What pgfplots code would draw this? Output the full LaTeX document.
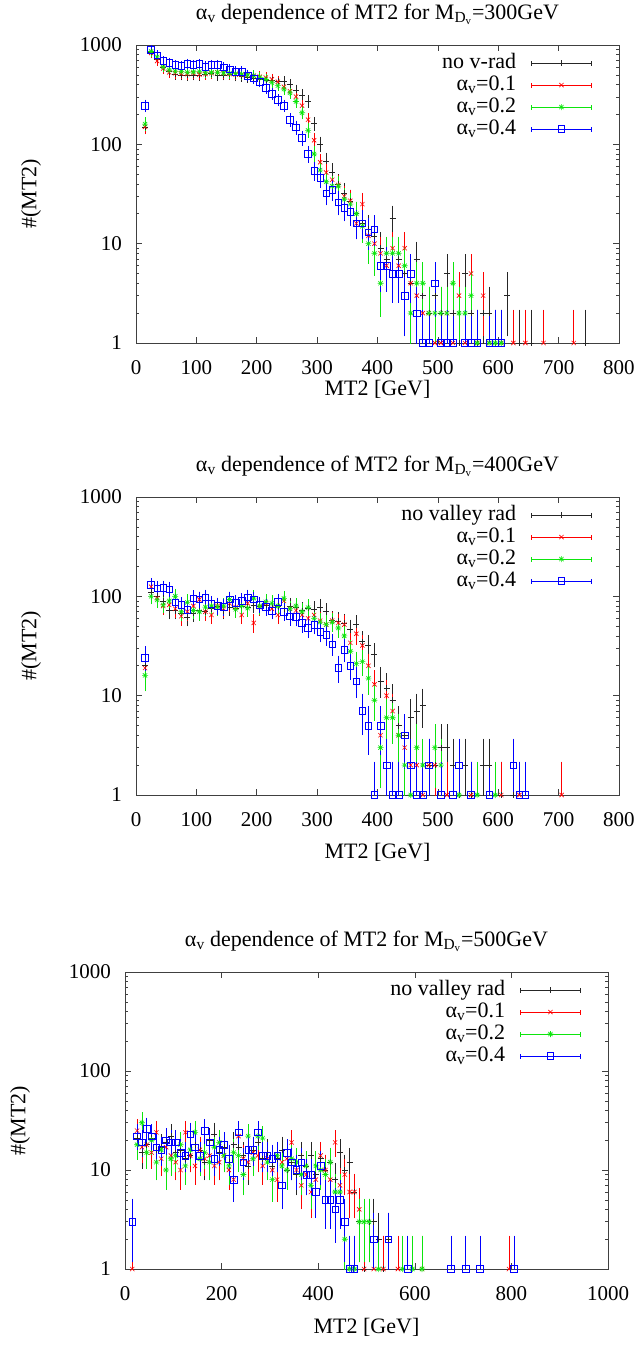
\documentclass[border=0pt]{standalone}
\usepackage{fontspec}
\setmainfont{Liberation Serif}
\usepackage{pgfplots}
\pgfplotsset{compat=1.18}
\newcommand\gpfont{\fontsize{22bp}{26bp}\selectfont}
\newcommand\gptickfont{\fontsize{21bp}{25bp}\selectfont}
\definecolor{gpgreen}{rgb}{0.05,0.9,0.05}
\pgfdeclareplotmark{gstar}{%
  \pgfpathmoveto{\pgfqpoint{-\pgfplotmarksize}{0pt}}\pgfpathlineto{\pgfqpoint{\pgfplotmarksize}{0pt}}%
  \pgfpathmoveto{\pgfqpoint{0pt}{-\pgfplotmarksize}}\pgfpathlineto{\pgfqpoint{0pt}{\pgfplotmarksize}}%
  \pgfpathmoveto{\pgfqpoint{-.707\pgfplotmarksize}{-.707\pgfplotmarksize}}\pgfpathlineto{\pgfqpoint{.707\pgfplotmarksize}{.707\pgfplotmarksize}}%
  \pgfpathmoveto{\pgfqpoint{-.707\pgfplotmarksize}{.707\pgfplotmarksize}}\pgfpathlineto{\pgfqpoint{.707\pgfplotmarksize}{-.707\pgfplotmarksize}}%
  \pgfusepathqstroke}
\pgfplotsset{
  /pgf/number format/assume math mode=true,
  /pgf/number format/1000 sep={},
  legend image code/.code={
    \draw[#1, mark=none] (0bp,0bp) -- (60bp,0bp) (0bp,-2.5bp) -- (0bp,2.5bp) (60bp,-2.5bp) -- (60bp,2.5bp);
    \draw[mark repeat=2, mark phase=2, #1] plot coordinates {(0bp,0bp) (30bp,0bp) (60bp,0bp)};
  },
  every axis/.append style={
    scale only axis, width=483bp, height=298bp,
    ymin=1, ymax=1000,
    ytick={1,10,100,1000}, yticklabels={1,10,100,1000},
    minor ytick={2,3,4,5,6,7,8,9,20,30,40,50,60,70,80,90,200,300,400,500,600,700,800,900},
    tick align=inside, major tick length=6bp, minor tick length=3bp,
    tick style={black!75, line width=0.6bp},
    axis line style={black!75, line width=0.8bp},
    tick label style={font=\gptickfont},
    xticklabel style={inner sep=0pt, yshift=-17bp},
    yticklabel style={inner sep=0pt, xshift=-14bp},
    label style={font=\gpfont},
    xlabel={MT2 [GeV]},
    ylabel={\#(MT2)},
    ylabel style={at={(axis description cs:-0.2174,0.5)}, anchor=center},
    title style={font=\gpfont, at={(axis description cs:0.5,1)}, anchor=base, yshift=20bp},
    legend style={draw=none, fill=none, at={(axis description cs:0.944,0.977)}, anchor=north east,
      font=\gpfont, row sep=0bp, inner sep=0pt, column sep=14bp,
      nodes={inner sep=1bp, text height=15bp, text depth=5bp}},
    legend cell align=right, legend plot pos=right,
  },
  gperr/.style={error bars/.cd, y dir=both, y explicit,
    error bar style={line width=0.6bp},
    error mark options={mark size=3.5bp, line width=0.6bp}},
}
\pgfplotsset{
  table/gptab/.style={x=x, y=y,
    y error plus expr={sqrt(\thisrow{y})},
    y error minus expr={min(sqrt(\thisrow{y}),0.95*\thisrow{y})}},
}
\begin{document}
\begin{tikzpicture}
\useasboundingbox (0,0) rectangle (638bp,-1345bp);
%%%%%%%%%%%%%%%% Panel 1
\begin{semilogyaxis}[at={(136bp,-343bp)}, anchor=south west, xmin=0, xmax=800, xtick={0,100,...,800},
  xlabel style={at={(axis description cs:0.5,0)}, anchor=base, yshift=-52bp},
  title={α\textsubscript{v} dependence of MT2 for M\textsubscript{D\textsubscript{v}}=300GeV}]
\addplot[color=black!85, line width=0.6bp, only marks, mark=+, mark size=3bp, gperr] table[gptab] {
x y
15 150
25 850
35 720
45 600
55 540
65 510
75 500
85 495
95 500
105 495
115 505
125 515
135 495
145 500
155 505
165 490
175 485
185 475
195 465
205 455
215 445
225 440
235 430
245 427
255 400
265 350
275 315
285 270
295 162
305 100
315 68
325 52
335 40
345 32
355 27
365 20
375 16
385 14
395 12
405 9
415 7
425 18
435 7
445 5
455 4
465 7
475 3
485 2
495 3
505 2
515 5
525 2
535 1
545 5
555 2
565 1
575 2
585 2
595 1
615 3
635 1
655 1
745 1
};
\addlegendentry{no v-rad}
\addplot[color=red, line width=0.6bp, only marks, mark=x, mark size=3bp, gperr] table[gptab] {
x y
15 150
25 830
35 690
45 580
55 530
65 520
75 515
85 510
95 520
105 505
115 510
125 520
135 530
145 520
155 510
165 505
175 500
185 500
195 490
205 480
215 470
225 452
235 427
245 380
255 343
265 302
275 245
285 177
295 110
305 66
315 52
325 44
335 39
345 30
355 27
365 16
375 25
385 12
395 10
405 8
415 6
425 9
435 6
445 9
455 4
465 3
475 2
485 2
495 1
505 1
515 2
525 1
535 3
545 1
555 5
565 1
575 3
585 1
605 1
625 1
645 1
675 1
725 1
};
\addlegendentry{α\textsubscript{v}=0.1}
\addplot[color=gpgreen, line width=0.6bp, only marks, mark=gstar, mark size=3bp, gperr] table[gptab] {
x y
15 160
25 860
35 760
45 600
55 560
65 545
75 540
85 530
95 535
105 540
115 525
125 530
135 530
145 525
155 520
165 515
175 510
185 500
195 490
205 470
215 450
225 420
235 390
245 360
255 330
265 270
275 208
285 138
295 80
305 55
315 42
325 38
335 38
345 28
355 25
365 20
375 15
385 10
395 8
405 4
415 8
425 8
435 8
445 6
455 2
465 4
475 4
485 2
495 2
505 2
515 2
525 4
535 2
545 2
555 3
565 1
585 1
595 1
605 1
};
\addlegendentry{α\textsubscript{v}=0.2}
\addplot[color=blue, line width=0.6bp, only marks, mark=square, mark size=3.3bp, gperr] table[gptab] {
x y
15 245
25 890
35 790
45 690
55 660
65 630
75 615
85 645
95 630
105 645
115 605
125 630
135 630
145 597
155 570
165 540
175 540
185 490
195 462
205 427
215 370
225 322
235 280
245 245
255 176
265 148
275 116
285 80
295 54
305 46
315 32
325 35
335 26
345 23
355 21
365 16
375 16
385 13
395 14
405 6
415 6
425 5
435 5
445 3
455 5
465 2
475 1
485 1
495 4
505 1
515 1
525 1
545 1
555 1
565 1
585 1
595 1
605 1
};
\addlegendentry{α\textsubscript{v}=0.4}
\end{semilogyaxis}
%%%%%%%%%%%%%%%% Panel 2
\begin{semilogyaxis}[at={(136bp,-795bp)}, anchor=south west, xmin=0, xmax=800, xtick={0,100,...,800},
  xlabel style={at={(axis description cs:0.5,0)}, anchor=base, yshift=-63bp},
  title={α\textsubscript{v} dependence of MT2 for M\textsubscript{D\textsubscript{v}}=400GeV}]
\addplot[color=black!85, line width=0.6bp, only marks, mark=+, mark size=3bp, gperr] table[gptab] {
x y
15 20
25 110
35 100
45 90
55 72
65 72
75 68
85 62
95 68
105 72
115 70
125 75
135 80
145 72
155 78
165 75
175 80
185 78
195 82
205 80
215 82
225 78
235 80
245 75
255 80
265 78
275 72
285 76
295 74
305 78
315 70
325 58
335 56
345 54
355 47
365 52
375 35
385 32
395 26
405 14
415 12
425 9
435 5
445 4
455 6
465 7
475 8
485 2
495 2
505 3
515 3
525 2
535 1
545 2
555 1
575 2
585 2
605 1
625 1
};
\addlegendentry{no valley rad}
\addplot[color=red, line width=0.6bp, only marks, mark=x, mark size=3bp, gperr] table[gptab] {
x y
15 19
25 125
35 96
45 80
55 82
65 75
75 63
85 70
95 80
105 93
115 70
125 65
135 80
145 75
155 85
165 78
175 65
185 85
195 54
205 78
215 85
225 75
235 65
245 90
255 75
265 72
275 65
285 60
295 65
305 57
315 52
325 57
335 54
345 52
355 34
365 42
375 32
385 20
395 13
405 4
415 10
425 7
435 4
445 3
455 2
465 2
475 1
485 2
495 2
515 1
555 1
605 1
635 1
705 1
};
\addlegendentry{α\textsubscript{v}=0.1}
\addplot[color=gpgreen, line width=0.6bp, only marks, mark=gstar, mark size=3bp, gperr] table[gptab] {
x y
15 16
25 100
35 92
45 82
55 90
65 100
75 70
85 87
95 72
105 70
115 78
125 80
135 78
145 80
155 93
165 74
175 80
185 76
195 96
205 80
215 88
225 85
235 80
245 95
255 75
265 80
275 70
285 77
295 60
305 55
315 52
325 55
335 48
345 40
355 28
365 21
375 22
385 15
395 9
405 3
415 6
425 6
435 4
445 2
455 1
465 3
475 2
495 3
505 2
535 1
565 1
595 1
};
\addlegendentry{α\textsubscript{v}=0.2}
\addplot[color=blue, line width=0.6bp, only marks, mark=square, mark size=3.3bp, gperr] table[gptab] {
x y
15 24
25 130
35 120
45 122
55 118
65 87
75 82
85 73
95 96
105 93
115 98
125 84
135 80
145 78
155 93
165 86
175 90
185 98
195 93
205 82
215 78
225 72
235 88
245 70
255 63
265 62
275 54
285 48
295 52
305 44
315 41
325 33
335 19
345 29
355 20
365 14
375 7
385 5
395 1
405 5
415 2
425 1
435 1
445 4
455 2
465 1
475 1
485 2
505 1
525 1
535 2
555 1
585 1
625 2
635 1
645 1
};
\addlegendentry{α\textsubscript{v}=0.4}
\end{semilogyaxis}
%%%%%%%%%%%%%%%% Panel 3
\begin{semilogyaxis}[at={(125bp,-1269bp)}, anchor=south west, height=297bp, xmin=0, xmax=1000, xtick={0,200,...,1000},
  xlabel style={at={(axis description cs:0.5,0)}, anchor=base, yshift=-64bp},
  title={α\textsubscript{v} dependence of MT2 for M\textsubscript{D\textsubscript{v}}=500GeV}]
\addplot[color=black!85, line width=0.6bp, only marks, mark=+, mark size=3bp, gperr] table[gptab] {
x y
25 21
35 15
45 18
55 21
65 16
75 17
85 19
95 22
105 15
115 16
125 13
135 14
145 18
155 16
165 12
175 20
185 23
195 15
205 17
215 12
225 18
235 17
245 14
255 11
265 16
275 19
285 13
295 15
305 11
315 13
325 16
335 10
345 12
355 9
365 14
375 11
385 14
395 9
405 13
415 10
425 12
435 8
445 15
455 10
465 12
475 6
485 3
495 1
505 3
515 3
525 2
535 1
545 2
};
\addlegendentry{no valley rad}
\addplot[color=red, line width=0.6bp, only marks, mark=x, mark size=3bp, gperr] table[gptab] {
x y
15 1
25 25
35 17
45 18
55 15
65 24
75 13
85 17
95 14
105 12
115 10
125 24
135 14
145 11
155 16
165 13
175 14
185 11
195 12
205 14
215 10
225 8
235 22
245 13
255 12
265 15
275 14
285 11
295 13
305 10
315 8
325 12
335 13
345 19
355 10
365 7
375 9
385 6
395 8
405 14
415 10
425 8
435 19
445 7
455 9
465 6
475 6
485 4
495 1
515 1
535 1
565 1
615 1
795 1
};
\addlegendentry{α\textsubscript{v}=0.1}
\addplot[color=gpgreen, line width=0.6bp, only marks, mark=gstar, mark size=3bp, gperr] table[gptab] {
x y
25 18
35 30
45 15
55 20
65 12
75 16
85 10
95 13
105 14
115 18
125 11
135 16
145 24
155 13
165 15
175 12
185 17
195 19
205 14
215 11
225 15
235 14
245 9
255 22
265 13
275 22
285 21
295 12
305 8
315 14
325 11
335 10
345 13
355 12
365 9
375 11
385 7
395 11
405 10
415 9
425 12
435 6
445 6
455 2
465 1
475 1
485 3
495 3
505 3
525 1
575 1
595 1
615 1
};
\addlegendentry{α\textsubscript{v}=0.2}
\addplot[color=blue, line width=0.6bp, only marks, mark=square, mark size=3.3bp, gperr] table[gptab] {
x y
15 3
25 22
35 19
45 26
55 22
65 17
75 16
85 20
95 19
105 19
115 15
125 14
135 23
145 17
155 14
165 25
175 19
185 13
195 16
205 18
215 13
225 8
235 24
245 12
255 16
265 16
275 24
285 14
295 14
305 13
315 14
325 7
335 15
345 12
355 10
365 12
375 9
385 9
395 6
405 11
415 5
425 5
435 4
445 5
455 3
465 1
475 1
515 2
545 2
585 1
675 1
705 1
735 1
805 1
};
\addlegendentry{α\textsubscript{v}=0.4}
\end{semilogyaxis}
\end{tikzpicture}
\end{document}
